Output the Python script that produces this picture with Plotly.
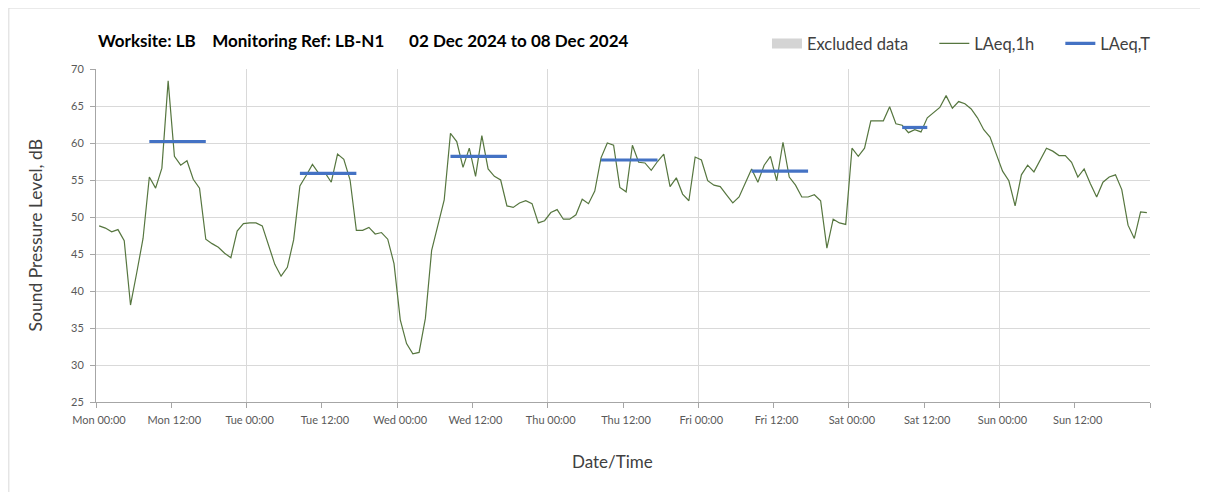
import plotly.graph_objects as go
import pandas as pd

# ---------------- data ----------------
start_time = "2024-12-02 00:30"          # first hourly value (centred on half hour)
laeq_1h = [
    48.8, 48.5, 48.0, 48.3, 46.8, 38.1, 42.5, 47.1, 55.4, 53.9, 56.6, 68.4,
    58.2, 57.0, 57.6, 55.1, 53.9, 47.0, 46.4, 45.9, 45.1, 44.5, 48.1, 49.1,
    49.2, 49.2, 48.8, 46.2, 43.6, 42.0, 43.2, 46.9, 54.2, 55.6, 57.1, 55.9,
    56.0, 54.7, 58.5, 57.8, 55.0, 48.2, 48.2, 48.6, 47.7, 47.9, 47.0, 43.7,
    36.1, 32.9, 31.5, 31.7, 36.3, 45.5, 48.7, 52.3, 61.3, 60.2, 56.7, 59.3,
    55.5, 61.0, 56.5, 55.5, 55.0, 51.5, 51.3, 51.9, 52.2, 51.8, 49.2, 49.5,
    50.6, 51.0, 49.7, 49.7, 50.3, 52.4, 51.8, 53.5, 58.0, 60.0, 59.7, 54.0,
    53.4, 59.7, 57.4, 57.3, 56.3, 57.5, 58.5, 54.1, 55.3, 53.1, 52.2, 58.1,
    57.7, 54.9, 54.3, 54.1, 53.0, 51.9, 52.7, 54.7, 56.5, 54.7, 57.0, 58.2,
    54.9, 60.1, 55.4, 54.3, 52.7, 52.7, 53.0, 52.2, 45.8, 49.7, 49.2, 49.0,
    59.3, 58.2, 59.3, 63.0, 63.0, 63.0, 64.9, 62.6, 62.4, 61.4, 61.8, 61.5,
    63.4, 64.1, 64.8, 66.4, 64.7, 65.6, 65.3, 64.6, 63.4, 61.8, 60.8, 58.5,
    56.2, 54.9, 51.5, 55.7, 57.0, 56.1, 57.6, 59.3, 58.9, 58.3, 58.3, 57.4,
    55.4, 56.5, 54.5, 52.7, 54.7, 55.4, 55.7, 53.7, 48.9, 47.1, 50.7, 50.6,
]

laeqT_start = ["2024-12-02 08:30", "2024-12-03 08:30", "2024-12-04 08:30",
               "2024-12-05 08:30", "2024-12-06 08:30", "2024-12-07 08:30"]
laeqT_end = ["2024-12-02 17:30", "2024-12-03 17:30", "2024-12-04 17:30",
             "2024-12-05 17:30", "2024-12-06 17:30", "2024-12-07 12:30"]
laeqT_value = [60.2, 55.9, 58.2, 57.7, 56.2, 62.1]

tick_times = pd.date_range("2024-12-02 00:00", "2024-12-09 00:00", freq="12h")
tick_labels = ["Mon 00:00", "Mon 12:00", "Tue 00:00", "Tue 12:00", "Wed 00:00",
               "Wed 12:00", "Thu 00:00", "Thu 12:00", "Fri 00:00", "Fri 12:00",
               "Sat 00:00", "Sat 12:00", "Sun 00:00", "Sun 12:00", ""]
day_lines = pd.date_range("2024-12-03 00:00", "2024-12-09 00:00", freq="24h")

x_range = ["2024-12-02 00:00", "2024-12-09 00:00"]
y_range = [25, 70]

NB = "\u00a0"
title_text = ("Worksite: LB" + NB * 4 + "Monitoring Ref: LB-N1" + NB * 6 +
              "02 Dec 2024 to 08 Dec 2024")
legend_names = ["Excluded data", "LAeq,1h", "LAeq,T"]

# ---------------- figure ----------------
times = pd.date_range(start_time, periods=len(laeq_1h), freq="1h")

FONT = "Lato"
GRID = "#d9d9d9"
AXIS = "#a6a6a6"
TXT = "#404040"

fig = go.Figure()

# legend-only entry for excluded periods (none in this week)
fig.add_trace(go.Scatter(x=[None], y=[None], mode="lines",
                         name=legend_names[0] + NB * 5,
                         line=dict(color="#d4d4d4", width=12)))

fig.add_trace(go.Scatter(x=times, y=laeq_1h, mode="lines",
                         name=legend_names[1] + NB * 5,
                         line=dict(color="#56763F", width=1.2)))

xs, ys = [], []
for s, e, v in zip(laeqT_start, laeqT_end, laeqT_value):
    xs += [pd.Timestamp(s), pd.Timestamp(e), None]
    ys += [v, v, None]
fig.add_trace(go.Scatter(x=xs, y=ys, mode="lines", name=legend_names[2],
                         line=dict(color="#4472C4", width=3.2)))

fig.update_layout(
    width=1200, height=484,
    margin=dict(l=88, r=58, t=61, b=90),
    paper_bgcolor="white", plot_bgcolor="white",
    font=dict(family=FONT, color=TXT),
    showlegend=True,
    legend=dict(orientation="h", x=0.6366, y=1.076, xanchor="left",
                yanchor="middle", font=dict(size=16.5, color=TXT),
                bgcolor="rgba(0,0,0,0)", traceorder="normal", itemwidth=30),
    xaxis=dict(type="date", range=x_range, tickvals=tick_times,
               ticktext=tick_labels, ticks="outside", ticklen=5,
               tickcolor=AXIS, showline=True, linecolor=AXIS, linewidth=1,
               showgrid=False, zeroline=False,
               tickfont=dict(size=11, color="#595959", family=FONT),
               ticklabelshift=3, ticklabelstandoff=3),
    xaxis2=dict(type="date", range=x_range, overlaying="x", side="bottom",
                tickvals=day_lines, showticklabels=False, ticks="",
                showgrid=True, gridcolor=GRID, gridwidth=1, zeroline=False,
                showline=False),
    yaxis=dict(range=y_range, dtick=5, ticks="outside", ticklen=5,
               tickcolor=AXIS, showline=True, linecolor=AXIS, linewidth=1,
               showgrid=True, gridcolor=GRID, gridwidth=1, zeroline=False,
               tickfont=dict(size=11, color="#595959", family=FONT),
               ticklabelstandoff=4),
)

# dummy trace to activate xaxis2 gridlines
fig.add_trace(go.Scatter(x=[None], y=[None], xaxis="x2", showlegend=False,
                         hoverinfo="skip"))

fig.add_annotation(text=title_text, xref="paper", yref="paper", x=0, y=1.085,
                   xanchor="left", yanchor="middle", showarrow=False,
                   font=dict(size=17, color="#000000", family=FONT, weight="bold"))
fig.add_annotation(text="Date/Time", xref="paper", yref="paper", x=0.4905,
                   y=-0.178, xanchor="center", yanchor="middle", showarrow=False,
                   font=dict(size=17, color=TXT, family=FONT))
fig.add_annotation(text="Sound Pressure Level, dB", xref="paper", yref="paper",
                   x=-0.057, y=0.5, xanchor="center", yanchor="middle",
                   textangle=-90, showarrow=False,
                   font=dict(size=17.5, color=TXT, family=FONT))

# outer chart border (top and left edges visible; rest clipped by figure)
fig.add_shape(type="rect", xref="paper", yref="paper", x0=-0.0827, x1=1.1,
              y0=-0.4, y1=1.183, line=dict(color=GRID, width=1),
              fillcolor="rgba(0,0,0,0)", layer="below")

fig.write_html("out.html")
